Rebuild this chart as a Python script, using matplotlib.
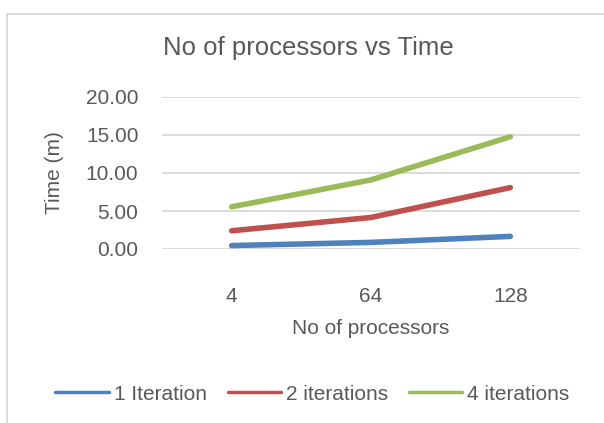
import numpy as np
import matplotlib.pyplot as plt
from matplotlib.patches import Rectangle
from matplotlib.ticker import FormatStrFormatter

plt.rcParams['font.family'] = ['Liberation Sans', 'DejaVu Sans']

# data
processors = ['4', '64', '128']
iter1 = [0.45, 0.87, 1.66]
iter2 = [2.40, 4.15, 8.08]
iter4 = [5.55, 9.09, 14.77]
series_names = ['1 Iteration', '2 iterations', '4 iterations']

colors = ['#4F81BD', '#C0504D', '#9BBB59']
text_col = '#595959'
W, H = 604, 423

fig = plt.figure(figsize=(W / 100, H / 100), dpi=100)
fig.patch.set_facecolor('white')

# chart area border
fig.patches.append(Rectangle((7 / W, -0.1), 1.2, 1 - 14 / H + 0.1, transform=fig.transFigure,
                             fill=False, edgecolor='#D9D9D9', linewidth=1.3))

ax = fig.add_axes([162 / W, 1 - 249 / H, (580 - 162) / W, (249 - 97) / H])

x = np.arange(len(processors))
for vals, name, c in zip([iter1, iter2, iter4], series_names, colors):
    ax.plot(x, vals, color=c, linewidth=4, solid_capstyle='round', solid_joinstyle='round', label=name)

ax.set_xlim(-0.5, len(processors) - 0.5)
ax.set_ylim(0, 20)
ax.set_yticks([0, 5, 10, 15, 20])
ax.yaxis.set_major_formatter(FormatStrFormatter('%.2f'))
ax.set_xticks(x)
ax.set_xticklabels(processors)
ax.grid(axis='y', color='#D9D9D9', linewidth=1.3)
ax.set_axisbelow(True)
for s in ax.spines.values():
    s.set_visible(False)
ax.tick_params(axis='both', length=0, labelsize=15, labelcolor=text_col)
ax.tick_params(axis='x', pad=27)
ax.tick_params(axis='y', pad=17)

ax.set_xlabel('No of processors', fontsize=15, color=text_col, va='center')
ax.xaxis.set_label_coords(0.5, -0.526)
ax.set_ylabel('Time (m)', fontsize=15, color=text_col, va='center')
ax.yaxis.set_label_coords(-0.258, 0.503)

fig.text(308.5 / W, 1 - 48 / H, 'No of processors vs Time', fontsize=18.5, color=text_col,
         ha='center', va='center')

leg = fig.legend(loc='center', bbox_to_anchor=(312.5 / W, 1 - 394 / H), ncol=3, frameon=False,
                 fontsize=15, handlelength=2.55, handletextpad=0.25, columnspacing=1.0)
for t in leg.get_texts():
    t.set_color(text_col)
for l in leg.get_lines():
    l.set_linewidth(2.5)

plt.savefig('out.png', dpi=100)
